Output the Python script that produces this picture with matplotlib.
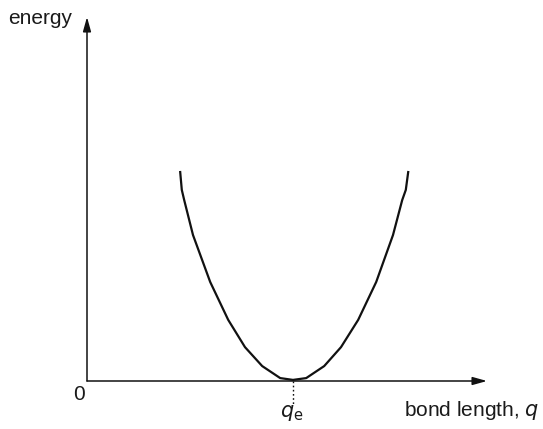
import matplotlib
matplotlib.use("Agg")
import matplotlib.pyplot as plt

# Data (arbitrary units)
bond_length = [2.33, 2.37, 2.43, 2.65, 3.08, 3.53, 3.95, 4.38, 4.83, 5.15,
               5.48, 5.93, 6.35, 6.78, 7.23, 7.65, 7.88, 7.97, 8.03]
energy = [5.74, 5.25, 4.97, 4.01, 2.72, 1.68, 0.93, 0.41, 0.08, 0.03,
          0.08, 0.41, 0.93, 1.68, 2.72, 4.01, 4.97, 5.25, 5.74]
q_e = 5.15

plt.rcParams['font.family'] = ['Liberation Sans', 'DejaVu Sans']

W, H = 543, 429
fig = plt.figure(figsize=(W / 100, H / 100), dpi=100)
x0, y0, x1, y1 = 87, 381, 487, 17
ax = fig.add_axes([x0 / W, (H - y0) / H, (x1 - x0) / W, (y0 - y1) / H])
ax.set_xlim(0, 10)
ax.set_ylim(0, 10)
ax.axis('off')

ax.plot(bond_length, energy, color='#111111', lw=1.6, clip_on=False,
        solid_joinstyle='round')

# axes arrows
arrow = dict(arrowstyle='-|>,head_length=0.86,head_width=0.24', lw=1.1,
             color='#111111', mutation_scale=10, shrinkA=0, shrinkB=0)
ax.annotate('', xy=(1, 0), xytext=(0, 0), xycoords='axes fraction', arrowprops=arrow)
ax.annotate('', xy=(0, 1), xytext=(0, 0), xycoords='axes fraction', arrowprops=arrow)

# dotted line at q_e
ax.plot([q_e, q_e], [0, -0.65], color='#111111', lw=1.0, ls=(0, (1.2, 1.8)),
        clip_on=False)

fs = 15
fig.text(40 / W, 1 - 19 / H, 'energy', ha='center', va='center', fontsize=fs, color='#1a1a1a')
fig.text(79 / W, 1 - 394 / H, '0', ha='center', va='center', fontsize=fs, color='#1a1a1a')
fig.text(404 / W, 1 - 410 / H, 'bond length, $\\it{q}$', ha='left', va='center',
         fontsize=fs, color='#1a1a1a')
fig.text(292 / W, 1 - 413 / H, '$\\it{q}_{\\rm e}$', ha='center', va='center',
         fontsize=fs, color='#1a1a1a')

fig.savefig('out.png', dpi=100)
